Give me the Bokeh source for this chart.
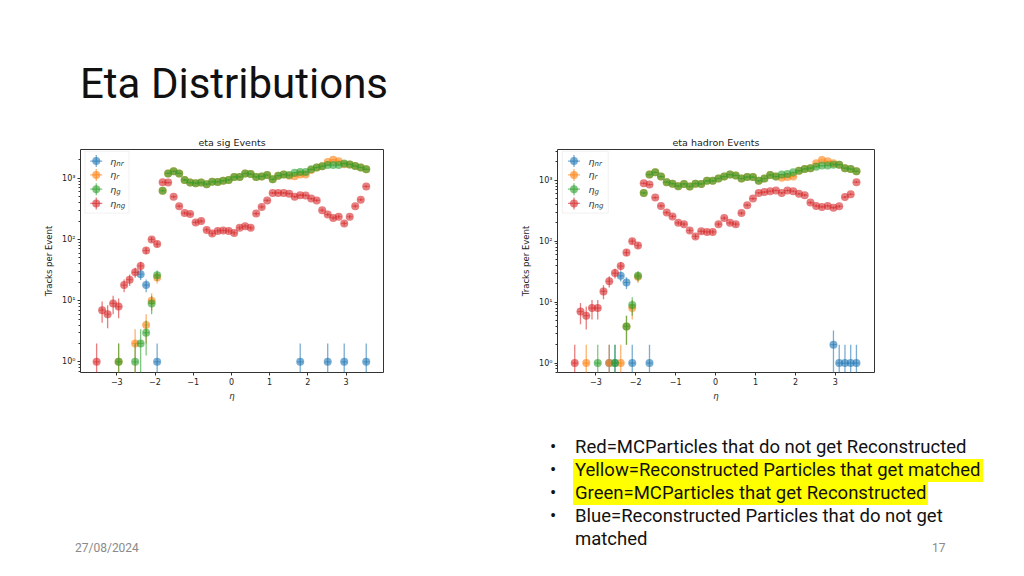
import math
from bokeh.plotting import figure
from bokeh.models import Range1d, FixedTicker, Div, Spacer, ColumnDataSource, BoxAnnotation
from bokeh.layouts import column, row
from bokeh.embed import file_html
from bokeh.resources import INLINE
from bokeh.core.properties import value

# ---------------- data ----------------
eta_centres = [-3.528, -3.384, -3.240, -3.096, -2.952, -2.808, -2.664, -2.520, -2.376, -2.232,
               -2.088, -1.944, -1.800, -1.656, -1.512, -1.368, -1.224, -1.080, -0.936, -0.792,
               -0.648, -0.504, -0.360, -0.216, -0.072, 0.072, 0.216, 0.360, 0.504, 0.648,
               0.792, 0.936, 1.080, 1.224, 1.368, 1.512, 1.656, 1.800, 1.944, 2.088,
               2.232, 2.376, 2.520, 2.664, 2.808, 2.952, 3.096, 3.240, 3.384, 3.528]

x_ticks = [-3, -2, -1, 0, 1, 2, 3]
x_tick_labels = ["\u22123", "\u22122", "\u22121", "0", "1", "2", "3"]
y_ticks = [1, 10, 100, 1000]
y_tick_labels = ["10\u2070", "10\u00b9", "10\u00b2", "10\u00b3"]
y_minor = [0.6, 0.7, 0.8, 0.9, 2, 3, 4, 5, 6, 7, 8, 9, 20, 30, 40, 50, 60, 70, 80, 90,
           200, 300, 400, 500, 600, 700, 800, 900, 2000, 3000]

series_keys = ["nr", "r", "g", "ng"]
series_colors = ["#1f77b4", "#ff7f0e", "#2ca02c", "#d62728"]

# eta sig Events
sig_nr = [0, 0, 0, 0, 0, 0, 0, 0, 27, 18, 0, 1, 0, 0, 0, 0, 0, 0, 0, 0,
          0, 0, 0, 0, 0, 0, 0, 0, 0, 0, 0, 0, 0, 0, 0, 0, 0, 1, 0, 0,
          0, 0, 1, 0, 0, 1, 0, 0, 0, 1]
sig_r = [0, 0, 0, 0, 1, 0, 0, 2, 0, 4, 10, 24,
         625, 1200, 1300, 1200, 940, 850, 830, 850, 800, 880, 870, 910, 940, 1050, 1050, 1200,
         1170, 1050, 1070, 1130, 960, 1100, 1150, 1100, 1080, 1150, 1150, 1370, 1500, 1570,
         1850, 2000, 1900, 1700, 1680, 1580, 1500, 1400]
sig_g = [0, 0, 0, 0, 1, 0, 0, 1, 2, 3, 9, 26,
         625, 1200, 1300, 1200, 940, 850, 830, 850, 800, 880, 870, 910, 940, 1050, 1050, 1200,
         1170, 1050, 1070, 1130, 960, 1100, 1150, 1130, 1230, 1260, 1260, 1400, 1500, 1570,
         1640, 1640, 1640, 1750, 1680, 1580, 1500, 1400]
sig_ng = [1, 7, 6, 9, 8, 18, 22, 29, 37, 66, 100, 84,
          860, 850, 500, 350, 270, 260, 190, 200, 143, 125, 138, 140, 138, 128, 155, 165, 155,
          265, 340, 435, 575, 575, 575, 560, 500, 530, 525, 465, 435, 300, 255, 225, 235, 183,
          235, 350, 445, 735]

# eta hadron Events
had_nr = [0, 0, 0, 0, 0, 0, 1, 1, 27, 21, 1, 0, 0, 1, 0, 0, 0, 0, 0, 0,
          0, 0, 0, 0, 0, 0, 0, 0, 0, 0, 0, 0, 0, 0, 0, 0, 0, 0, 0, 0,
          0, 0, 0, 0, 0, 2, 1, 1, 1, 1]
had_r = [0, 0, 1, 0, 0, 0, 1, 0, 1, 4, 8, 26,
         620, 1240, 1350, 1150, 930, 880, 800, 870, 790, 880, 870, 980, 980, 1070, 1150, 1240,
         1200, 1070, 1130, 1130, 980, 1070, 1220, 1150, 1100, 1130, 1150, 1430, 1530, 1580,
         1900, 2150, 2050, 1900, 1800, 1580, 1530, 1400]
had_g = [0, 0, 0, 0, 1, 0, 0, 1, 0, 4, 9, 27,
         620, 1240, 1350, 1150, 930, 880, 800, 870, 790, 880, 870, 980, 980, 1070, 1150, 1240,
         1200, 1070, 1130, 1130, 980, 1070, 1220, 1150, 1240, 1270, 1350, 1430, 1530, 1580,
         1660, 1740, 1740, 1800, 1800, 1580, 1530, 1400]
had_ng = [1, 7, 6, 8, 8, 15, 22, 30, 39, 65, 100, 85,
          890, 850, 520, 380, 295, 255, 200, 190, 150, 120, 145, 142, 142, 190, 240, 200, 190,
          290, 390, 500, 620, 640, 660, 680, 620, 680, 660, 600, 570, 430, 380, 365, 380, 355,
          375, 530, 590, 930]

FONT = "DejaVu Sans"
ALPHA = 0.6
XERR = 0.08


def make_panel(title, data, xr, yr, width, height, borders):
    p = figure(width=width, height=height, x_range=Range1d(*xr), y_range=Range1d(*yr),
               y_axis_type="log", output_backend="svg", toolbar_location=None,
               min_border_left=borders[0], min_border_right=borders[1],
               min_border_top=borders[2], min_border_bottom=borders[3])
    p.background_fill_color = "white"
    p.border_fill_color = "white"
    p.xgrid.visible = False
    p.ygrid.visible = False
    p.outline_line_color = "#333333"
    p.outline_line_width = 1

    p.title.text = title
    p.title.align = "center"
    p.title.text_font = FONT
    p.title.text_font_size = "9.5px"
    p.title.text_font_style = "normal"
    p.title.text_color = "#222222"
    p.title.standoff = 3

    for ax in (p.xaxis[0], p.yaxis[0]):
        ax.axis_line_color = None
        ax.major_tick_in = 0
        ax.major_tick_out = 3
        ax.major_tick_line_color = "#333333"
        ax.minor_tick_line_color = "#333333"
        ax.major_label_text_font = FONT
        ax.major_label_text_font_size = "8px"
        ax.major_label_text_color = "#222222"
        ax.major_label_standoff = 2
        ax.axis_label_text_font = FONT
        ax.axis_label_text_font_size = "8.5px"
        ax.axis_label_text_color = "#222222"
        ax.axis_label_text_font_style = "normal"

    p.xaxis.ticker = FixedTicker(ticks=x_ticks, minor_ticks=[])
    p.xaxis.major_label_overrides = dict(zip(x_ticks, x_tick_labels))
    p.xaxis.axis_label = "\u03b7"
    p.xaxis.axis_label_text_font_style = "italic"
    p.xaxis.axis_label_standoff = 3
    p.xaxis.minor_tick_out = 0
    p.xaxis.minor_tick_in = 0

    p.yaxis.ticker = FixedTicker(ticks=y_ticks, minor_ticks=y_minor)
    p.yaxis.major_label_overrides = dict(zip(y_ticks, y_tick_labels))
    p.yaxis.axis_label = "Tracks per Event"
    p.yaxis.axis_label_standoff = 5
    p.yaxis.minor_tick_in = 0
    p.yaxis.minor_tick_out = 2

    for key, color in zip(series_keys, series_colors):
        vals = data[key]
        xs = [eta_centres[i] for i, v in enumerate(vals) if v > 0]
        ys = [v for v in vals if v > 0]
        src = ColumnDataSource(dict(
            x=xs, y=ys,
            lo=[max(v - math.sqrt(v), 0.05) for v in ys],
            hi=[v + math.sqrt(v) for v in ys],
            xl=[x - XERR for x in xs], xh=[x + XERR for x in xs]))
        p.segment(x0="x", y0="lo", x1="x", y1="hi", source=src,
                  line_color=color, line_alpha=ALPHA, line_width=1.3)
        p.segment(x0="xl", y0="y", x1="xh", y1="y", source=src,
                  line_color=color, line_alpha=ALPHA * 0.8, line_width=1.2)
        p.scatter("x", "y", source=src, size=8, marker="circle",
                  fill_color=color, fill_alpha=ALPHA, line_color=None)

    # legend (drawn as an inset in axes fractions)
    lx0, lx1 = xr
    ly0, ly1 = math.log10(yr[0]), math.log10(yr[1])

    def fx(f):
        return lx0 + f * (lx1 - lx0)

    def fy(f):  # fraction from top
        return 10 ** (ly1 - f * (ly1 - ly0))

    p.add_layout(BoxAnnotation(left=fx(0.015), right=fx(0.16), top=fy(0.008), bottom=fy(0.285),
                               fill_color="white", fill_alpha=0.8, line_color="#d0d0d0",
                               line_width=1, level="underlay"))
    rows = [fy(0.052), fy(0.114), fy(0.178), fy(0.242)]
    mx = fx(0.052)
    tx = fx(0.098)
    for yv, color in zip(rows, series_colors):
        p.scatter([mx], [yv], marker="cross", size=12, line_color=color, line_alpha=ALPHA,
                  line_width=1.3)
        p.scatter([mx], [yv], marker="circle", size=8, fill_color=color, fill_alpha=ALPHA,
                  line_color=None)
    p.text(x=[tx] * 4, y=rows, text=["\u03b7"] * 4, text_font=value(FONT),
           text_font_style="italic", text_font_size="9.5px", text_baseline="middle",
           text_align="left", text_color="#333333")
    p.text(x=[tx] * 4, y=rows, text=series_keys, text_font=value(FONT),
           text_font_style="italic", text_font_size="7px", text_baseline="middle",
           text_align="left", text_color="#333333", x_offset=6, y_offset=2.5)
    return p


left = make_panel("eta sig Events",
                  dict(nr=sig_nr, r=sig_r, g=sig_g, ng=sig_ng),
                  (-3.95, 3.98), (0.67, 2950), 357, 295, (44, 10, 39, 30))
right = make_panel("eta hadron Events",
                   dict(nr=had_nr, r=had_r, g=had_g, ng=had_ng),
                   (-3.96, 3.98), (0.70, 3200), 371, 295, (44, 10, 26, 33))

TXT = "Roboto"
title_div = Div(width=1016, height=110, margin=0, text=(
    '<div style="position:relative;width:1016px;height:110px;">'
    f'<div style="position:absolute;left:80px;top:63px;font-family:{TXT};font-size:42px;'
    'line-height:42px;color:#111;white-space:nowrap;">Eta Distributions</div>'
    '</div>'))

bullets = [
    ("Red=MCParticles that do not get Reconstructed", False),
    ("Yellow=Reconstructed Particles that get matched", True),
    ("Green=MCParticles that get Reconstructed", True),
    ("Blue=Reconstructed Particles that do not get", False),
]
FS = 18.5
html = ['<div style="position:relative;width:1016px;height:160px;">']
for i, (t, hl) in enumerate(bullets):
    top = 31 + 23 * i
    bg = "background:#ffff00;" if hl else ""
    html.append(
        f'<div style="position:absolute;left:550px;top:{top}px;font-family:{TXT};font-size:{FS}px;'
        f'line-height:23px;color:#111;white-space:nowrap;">\u2022</div>'
        f'<div style="position:absolute;left:573px;top:{top}px;font-family:{TXT};font-size:{FS}px;'
        f'line-height:23px;color:#111;white-space:nowrap;{bg}padding:0 2px;">{t}</div>')
html.append(
    f'<div style="position:absolute;left:573px;top:{31 + 23 * 4}px;font-family:{TXT};font-size:{FS}px;'
    f'line-height:23px;color:#111;white-space:nowrap;padding:0 2px;">matched</div>')
html.append(
    f'<div style="position:absolute;left:75px;top:136px;font-family:{TXT};font-size:12px;'
    'line-height:14px;color:#8a8a8a;">27/08/2024</div>')
html.append(
    f'<div style="position:absolute;left:932px;top:136px;font-family:{TXT};font-size:12px;'
    'line-height:14px;color:#8a8a8a;">17</div>')
html.append('</div>')
bottom_div = Div(width=1016, height=160, margin=0, text="".join(html))

charts = row(Spacer(width=36, height=295, margin=0), left,
             Spacer(width=120, height=295, margin=0), right)
layout = column(title_div, charts, bottom_div)

open("out.html", "w").write(file_html(layout, INLINE))
